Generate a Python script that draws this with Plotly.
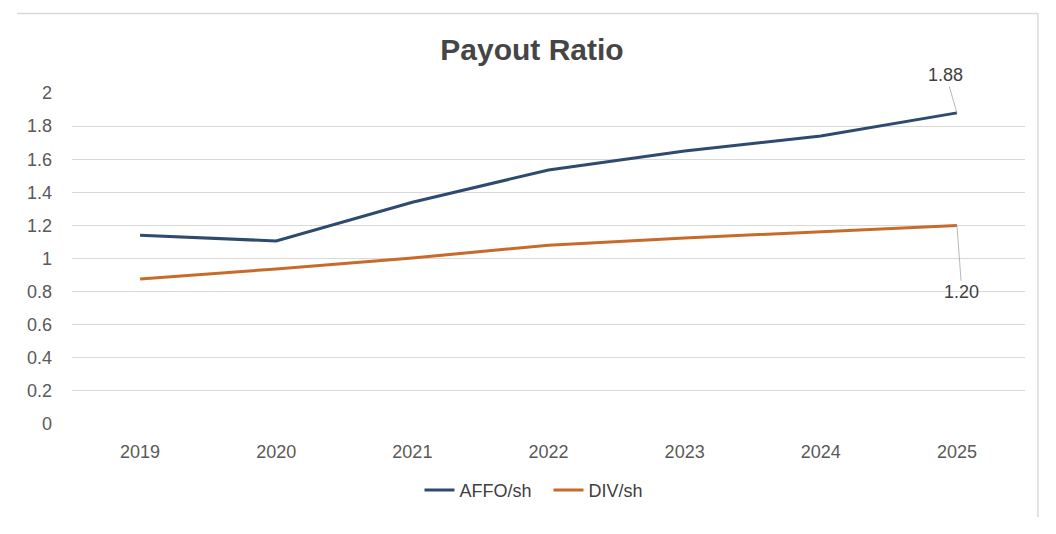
import plotly.graph_objects as go

years = ["2019", "2020", "2021", "2022", "2023", "2024", "2025"]
affo = [1.14, 1.106, 1.34, 1.535, 1.65, 1.74, 1.88]
div = [0.876, 0.937, 1.003, 1.08, 1.124, 1.16, 1.20]
y_ticks = [0, 0.2, 0.4, 0.6, 0.8, 1, 1.2, 1.4, 1.6, 1.8, 2]
y_labels = ["0", "0.2", "0.4", "0.6", "0.8", "1", "1.2", "1.4", "1.6", "1.8", "2"]

font_main = "Liberation Sans, Arial, sans-serif"
last = len(years) - 1

fig = go.Figure()
fig.add_trace(go.Scatter(x=years, y=affo, mode="lines", name="AFFO/sh",
                         line=dict(color="#2E4A6F", width=3)))
fig.add_trace(go.Scatter(x=years, y=div, mode="lines", name="DIV/sh",
                         line=dict(color="#C86B2A", width=3)))

fig.add_annotation(x=last, y=affo[-1], text=f"{affo[-1]:.2f}", showarrow=True,
                   arrowhead=0, arrowwidth=0.8, arrowcolor="#A6A6A6",
                   ax=-11, ay=-38, font=dict(size=18, color="#404040", family=font_main))
fig.add_annotation(x=last, y=div[-1], text=f"{div[-1]:.2f}", showarrow=True,
                   arrowhead=0, arrowwidth=0.8, arrowcolor="#A6A6A6",
                   ax=5, ay=67, font=dict(size=18, color="#404040", family=font_main))

# chart-area border lines (top and right)
fig.add_shape(type="line", xref="paper", yref="paper", x0=-0.0577, x1=1.0136,
              y0=1.2402, y1=1.2402, line=dict(color="#D9D9D9", width=1.5))
fig.add_shape(type="line", xref="paper", yref="paper", x0=1.0136, x1=1.0136,
              y0=1.2402, y1=-0.281, line=dict(color="#D9D9D9", width=1.5))

fig.update_layout(
    width=1048, height=526,
    margin=dict(l=64, r=31, t=85, b=110),
    paper_bgcolor="white", plot_bgcolor="white",
    title=dict(text="<b>Payout Ratio</b>", x=0.5, xanchor="center", y=0.922, yanchor="middle",
               font=dict(family=font_main, size=30, color="#454545")),
    xaxis=dict(type="category", range=[-0.5, last + 0.5], autorange=False,
               showgrid=False, showline=False, zeroline=False, ticks="",
               automargin=False,
               tickfont=dict(size=18, color="#595959", family=font_main),
               ticklabelstandoff=15),
    yaxis=dict(range=[0, 2], autorange=False, tickvals=y_ticks, ticktext=y_labels,
               showgrid=True, gridcolor="#D9D9D9", gridwidth=1, zeroline=False,
               showline=False, ticks="", automargin=False,
               tickfont=dict(size=18, color="#595959", family=font_main),
               ticklabelstandoff=19),
    legend=dict(orientation="h", x=0.5, xanchor="center", y=-0.2, yanchor="middle",
                font=dict(size=18, color="#404040", family=font_main),
                itemwidth=30, entrywidth=84, entrywidthmode="pixels"),
    showlegend=True,
)

fig.write_html("out.html")
